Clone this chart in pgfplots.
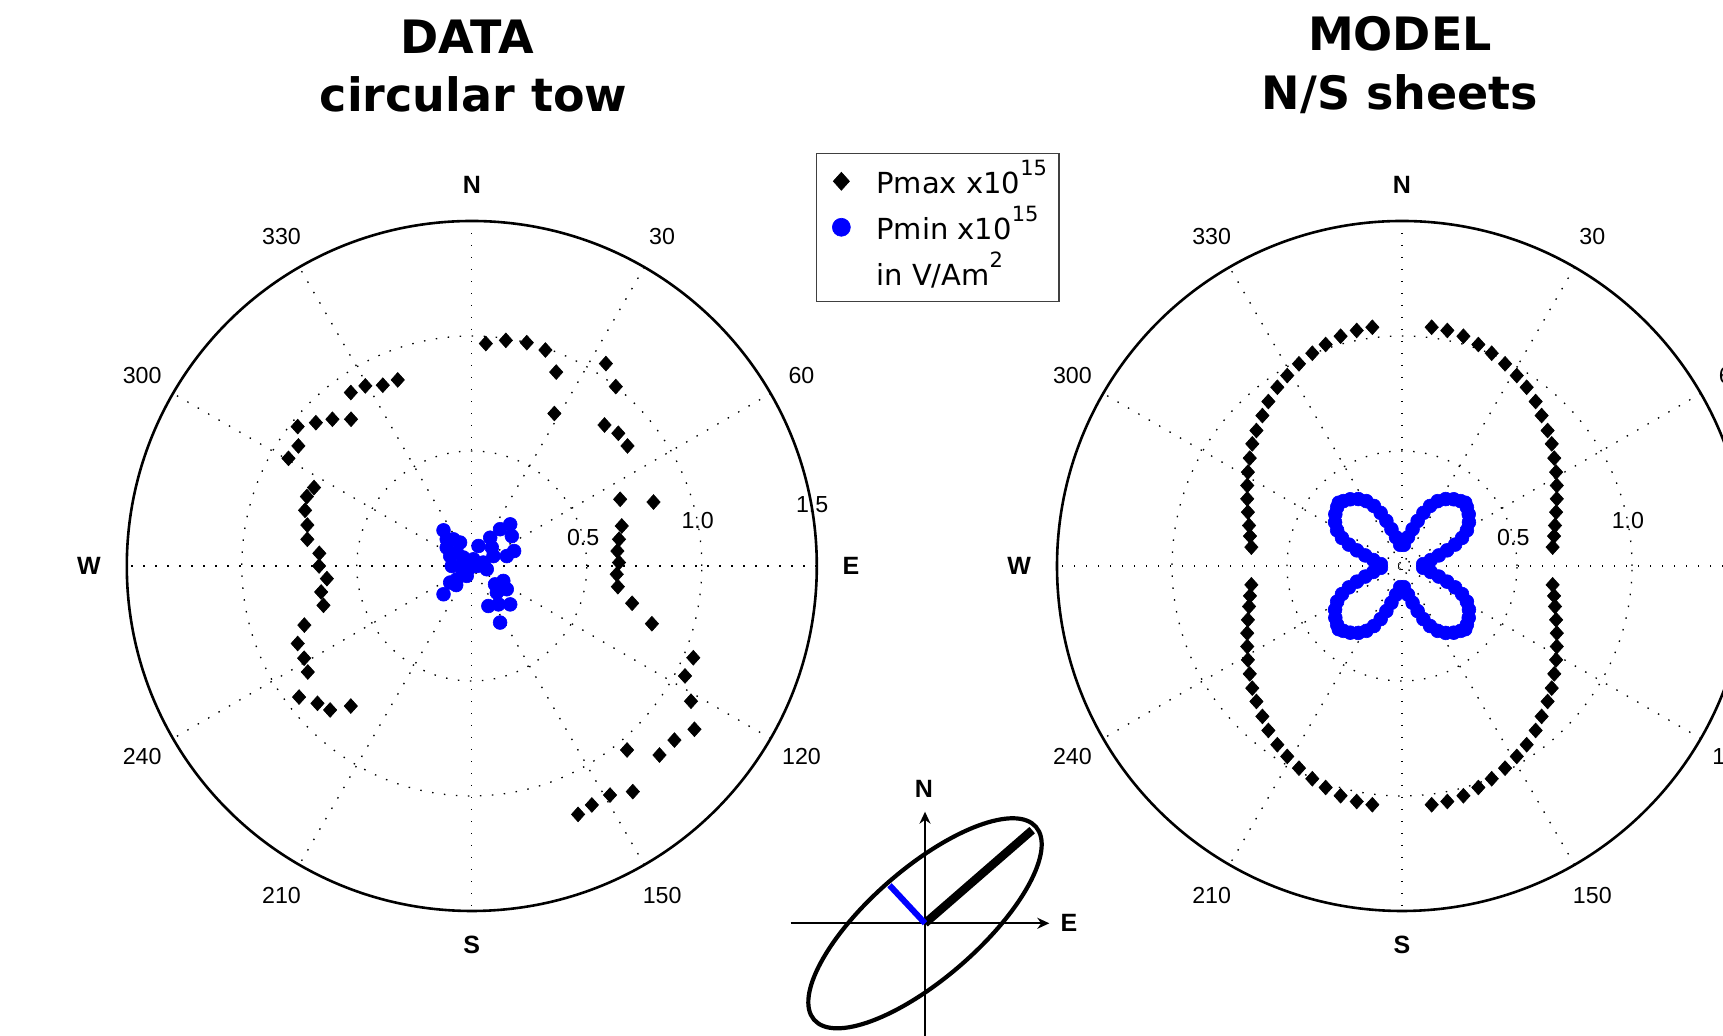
\documentclass[border=0pt]{standalone}
\usepackage{pgfplots}
\usepackage{pgfplotstable}
\pgfplotsset{compat=1.18}
\usepackage{fontspec}
\setmainfont{Liberation Sans}
\newfontfamily\dejavu{DejaVu Sans}
\usetikzlibrary{arrows.meta}

\tikzset{
  gridline/.style={black, line width=0.65pt, dash pattern=on 0.75pt off 5.25pt},
  ticklab/.style={font=\fontsize{11.6}{13}\selectfont, inner sep=0pt},
  dirlab/.style={font=\bfseries\fontsize{12.5}{14}\selectfont, inner sep=0pt},
  titlelab/.style={font=\dejavu\bfseries\fontsize{23}{27}\selectfont, inner sep=0pt, anchor=base},
}

\newcommand{\supnum}[1]{\raisebox{0.62em}{\fontsize{10.5}{12}\selectfont #1}}

\pgfplotsset{
  polarbox/.style={scale only axis, width=345pt, height=345pt,
    xmin=-1.5, xmax=1.5, ymin=-1.5, ymax=1.5, hide axis, clip=false, anchor=center},
  pmaxstyle/.style={only marks, mark=diamond*, mark size=3.7pt,
    mark options={draw=black, fill=black, line width=0.3pt, xscale=1.2}},
  pminstyle/.style={only marks, mark=*, mark size=3.45pt,
    mark options={draw=blue, fill=blue, line width=0.3pt}},
}

% compass-style polar grid: 0 deg = North, clockwise
\newcommand{\polargrid}{%
  \pgfplotsinvokeforeach{0,30,60,90,120,150}{%
    \draw[gridline] (axis cs:{1.5*sin(##1)},{1.5*cos(##1)}) -- (axis cs:{-1.5*sin(##1)},{-1.5*cos(##1)});
  }%
  \draw[gridline] (axis cs:0,0) circle[radius=0.5];
  \draw[gridline] (axis cs:0,0) circle[radius=1];
  \draw[line width=1.3pt] (axis cs:0,0) circle[radius=1.5];
  \pgfplotsinvokeforeach{30,60,120,150,210,240,300,330}{%
    \node[ticklab] at (axis cs:{1.655*sin(##1)},{1.655*cos(##1)}) {##1};
  }%
  \node[dirlab] at (axis cs:0,1.658) {N};
  \node[dirlab] at (axis cs:1.648,0) {E};
  \node[dirlab] at (axis cs:0,-1.648) {S};
  \node[dirlab] at (axis cs:-1.665,0) {W};
  \node[ticklab] at (axis cs:0.484,0.125) {0.5};
  \node[ticklab] at (axis cs:0.982,0.198) {1.0};
  \node[ticklab] at (axis cs:1.480,0.265) {1.5};
}

% measured circular tow: east and north components
\pgfplotstableread{
E N
0.061 0.967
0.148 0.981
0.239 0.971
0.320 0.939
0.367 0.843
0.359 0.663
0.583 0.880
0.626 0.780
0.577 0.613
0.637 0.577
0.677 0.522
0.645 0.290
0.790 0.278
0.652 0.174
0.640 0.116
0.633 0.065
0.640 0.015
0.630 -0.036
0.635 -0.090
0.697 -0.162
0.783 -0.251
0.963 -0.399
0.927 -0.478
0.953 -0.588
0.968 -0.710
0.881 -0.757
0.816 -0.822
0.675 -0.800
0.700 -0.981
0.601 -0.996
0.522 -1.039
0.462 -1.080
-0.322 0.809
-0.387 0.786
-0.463 0.783
-0.526 0.754
-0.525 0.638
-0.606 0.638
-0.678 0.623
-0.757 0.606
-0.754 0.522
-0.797 0.468
-0.686 0.341
-0.717 0.302
-0.725 0.242
-0.715 0.178
-0.715 0.116
-0.663 0.055
-0.664 0.000
-0.630 -0.055
-0.655 -0.113
-0.645 -0.171
-0.728 -0.257
-0.757 -0.337
-0.729 -0.401
-0.713 -0.461
-0.751 -0.570
-0.671 -0.597
-0.616 -0.626
-0.526 -0.609
}\dataPmax

\pgfplotstableread{
E N
-0.123 0.155
-0.109 0.116
-0.080 0.116
-0.051 0.102
-0.109 0.080
-0.094 0.043
-0.065 0.058
-0.037 0.037
-0.022 0.015
-0.051 0.000
-0.007 -0.007
-0.037 -0.029
-0.065 -0.058
-0.094 -0.072
-0.123 -0.123
-0.068 -0.083
0.022 0.000
0.029 0.087
0.050 0.015
0.065 -0.014
0.080 0.123
0.087 0.080
0.094 0.043
0.123 0.160
0.167 0.181
0.174 0.130
0.152 0.043
0.184 0.065
0.101 -0.080
0.137 -0.065
0.152 -0.101
0.109 -0.116
0.072 -0.174
0.116 -0.167
0.167 -0.167
0.123 -0.246
-0.087 0.000
-0.022 -0.043
0.007 0.029
}\dataPmin

% model for N/S sheets
\pgfplotstableread{
E N
0.129 1.038
0.197 1.024
0.267 0.999
0.332 0.963
0.390 0.925
0.448 0.879
0.499 0.828
0.542 0.777
0.581 0.715
0.607 0.654
0.633 0.589
0.651 0.531
0.662 0.469
0.670 0.408
0.673 0.350
0.673 0.292
0.670 0.234
0.665 0.176
0.661 0.130
0.655 0.082
0.655 -0.082
0.661 -0.130
0.665 -0.176
0.670 -0.234
0.673 -0.292
0.673 -0.350
0.670 -0.408
0.662 -0.469
0.651 -0.531
0.633 -0.589
0.607 -0.654
0.581 -0.715
0.542 -0.777
0.499 -0.828
0.448 -0.879
0.390 -0.925
0.332 -0.963
0.267 -0.999
0.197 -1.024
0.129 -1.038
-0.129 -1.038
-0.197 -1.024
-0.267 -0.999
-0.332 -0.963
-0.390 -0.925
-0.448 -0.879
-0.499 -0.828
-0.542 -0.777
-0.581 -0.715
-0.607 -0.654
-0.633 -0.589
-0.651 -0.531
-0.662 -0.469
-0.670 -0.408
-0.673 -0.350
-0.673 -0.292
-0.670 -0.234
-0.665 -0.176
-0.661 -0.130
-0.655 -0.082
-0.655 0.082
-0.661 0.130
-0.665 0.176
-0.670 0.234
-0.673 0.292
-0.673 0.350
-0.670 0.408
-0.662 0.469
-0.651 0.531
-0.633 0.589
-0.607 0.654
-0.581 0.715
-0.542 0.777
-0.499 0.828
-0.448 0.879
-0.390 0.925
-0.332 0.963
-0.267 0.999
-0.197 1.024
-0.129 1.038
}\modelPmax

\pgfplotstableread{
E N
0.008 0.092
0.026 0.125
0.046 0.160
0.068 0.196
0.093 0.231
0.122 0.261
0.155 0.282
0.190 0.291
0.225 0.290
0.255 0.282
0.275 0.275
0.282 0.255
0.290 0.225
0.291 0.190
0.282 0.155
0.261 0.122
0.231 0.093
0.196 0.068
0.160 0.046
0.125 0.026
0.092 0.008
0.092 -0.008
0.125 -0.026
0.160 -0.046
0.196 -0.068
0.231 -0.093
0.261 -0.122
0.282 -0.155
0.291 -0.190
0.290 -0.225
0.282 -0.255
0.275 -0.275
0.255 -0.282
0.225 -0.290
0.190 -0.291
0.155 -0.282
0.122 -0.261
0.093 -0.231
0.068 -0.196
0.046 -0.160
0.026 -0.125
0.008 -0.092
-0.008 -0.092
-0.026 -0.125
-0.046 -0.160
-0.068 -0.196
-0.093 -0.231
-0.122 -0.261
-0.155 -0.282
-0.190 -0.291
-0.225 -0.290
-0.255 -0.282
-0.275 -0.275
-0.282 -0.255
-0.290 -0.225
-0.291 -0.190
-0.282 -0.155
-0.261 -0.122
-0.231 -0.093
-0.196 -0.068
-0.160 -0.046
-0.125 -0.026
-0.092 -0.008
-0.092 0.008
-0.125 0.026
-0.160 0.046
-0.196 0.068
-0.231 0.093
-0.261 0.122
-0.282 0.155
-0.291 0.190
-0.290 0.225
-0.282 0.255
-0.275 0.275
-0.255 0.282
-0.225 0.290
-0.190 0.291
-0.155 0.282
-0.122 0.261
-0.093 0.231
-0.068 0.196
-0.046 0.160
-0.026 0.125
-0.008 0.092
}\modelPmin

\begin{document}
\begin{tikzpicture}
\useasboundingbox (0,0) rectangle (861.5pt,518pt);
\clip (0,0) rectangle (861.5pt,518pt);

% titles
\node[titlelab] at (233.7pt,491.4pt) {DATA};
\node[titlelab] at (236.8pt,462.2pt) {circular tow};
\node[titlelab] at (700pt,492.6pt) {MODEL};
\node[titlelab] at (700pt,463pt) {N/S sheets};

% measured data
\begin{axis}[polarbox, at={(235.9pt,235pt)},
  legend cell align=left,
  legend image post style={mark size=4.5pt},
  legend style={at={(0.9984,1.099)}, anchor=north west, draw=black!75, line width=0.6pt,
    font=\dejavu\fontsize{14.5}{17}\selectfont, inner xsep=4pt, inner ysep=4pt,
    row sep=3pt, nodes={text height=14pt, text depth=2pt},
    /tikz/every odd column/.append style={column sep=11pt}}]
\polargrid
\addplot[pmaxstyle] table[x=E, y=N] {\dataPmax};
\addlegendentry{Pmax x10\supnum{15}}
\addplot[pminstyle] table[x=E, y=N] {\dataPmin};
\addlegendentry{Pmin x10\supnum{15}}
\addlegendimage{empty legend}
\addlegendentry{in V/Am\supnum{2}}
\end{axis}

% model
\begin{axis}[polarbox, at={(701pt,235pt)}]
\polargrid
\addplot[pmaxstyle] table[x=E, y=N] {\modelPmax};
\addplot[pminstyle] table[x=E, y=N] {\modelPmin};
\end{axis}

% orientation sketch: polarisation ellipse with major and minor axes
\begin{scope}[shift={(462.5pt,56.35pt)}]
  \draw[line width=2.1pt, rotate=41] (0,0) ellipse [x radius=73.5pt, y radius=27.5pt];
  \draw[line width=1pt, -{Stealth[length=6pt, width=5.5pt]}] (-67.15pt,0) -- (62.15pt,0);
  \draw[line width=1pt, -{Stealth[length=6pt, width=5.5pt]}] (0,-60pt) -- (0,55.8pt);
  \draw[line width=4.2pt, black] (0,0) -- (41:71pt);
  \draw[line width=3pt, blue] (0,0) -- (133:26pt);
  \node[dirlab] at (-0.5pt,67pt) {N};
  \node[dirlab] at (72pt,0pt) {E};
\end{scope}
\end{tikzpicture}
\end{document}
